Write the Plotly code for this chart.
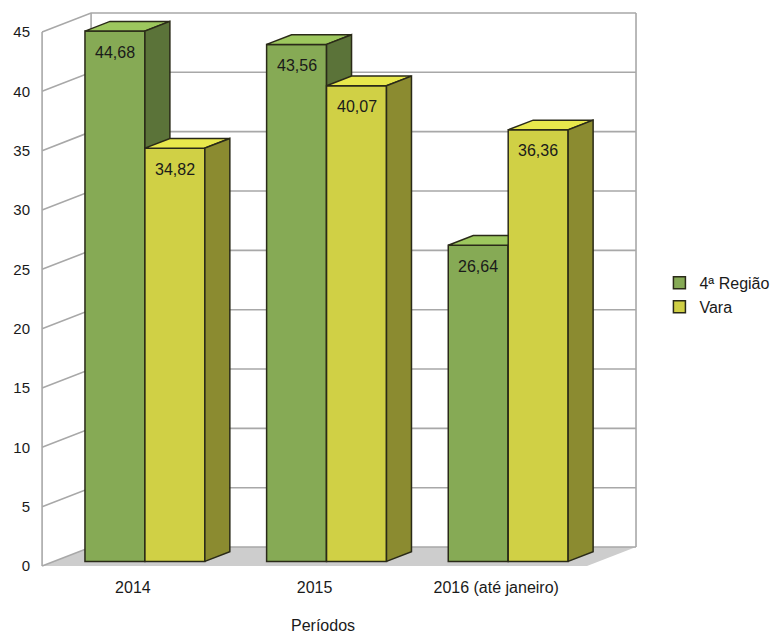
import plotly.graph_objects as go

# ---------------- data ----------------
categories = ["2014", "2015", "2016 (até janeiro)"]
series_names = ["4ª Região", "Vara"]
regiao = [44.68, 43.56, 26.64]
vara = [34.82, 40.07, 36.36]
y_ticks = [0, 5, 10, 15, 20, 25, 30, 35, 40, 45]
x_title = "Períodos"

# ---------------- styles / geometry ----------------
FONT = "Liberation Sans, Arial, sans-serif"
TXT = "#1a1a1a"
FRONT = ["#86aa55", "#d0d045"]
TOP = ["#9dc75e", "#e8e84c"]
SIDE = ["#5b7339", "#8b8b30"]
EDGE = "#2a2a18"
GRID = "#a8a8a8"
FLOOR = "#cdcdcd"

CAT_PX = 181.67          # pixels per category on the front plane
VAL_PX = 534 / 45        # pixels per value unit
WALL_DX = 49 / CAT_PX    # depth of the chart box (x, category units)
WALL_DY = 19 / VAL_PX    # depth of the chart box (y, value units)
BAR_D0 = 0.245           # depth fraction where bars start
BAR_DEPTH = 0.51         # depth fraction of bars
BAR_W = 0.33             # bar width (category units)

X0, X1 = -0.55, 2.7917
Y0, Y1 = -0.5, 46.85

xs = list(range(len(categories)))
series = [regiao, vara]

fig = go.Figure()

# ---- background box (floor, walls, grid) on x/y ----
floor_x = [-0.5, 2.5, 2.5 + WALL_DX, -0.5 + WALL_DX, -0.5]
floor_y = [0, 0, WALL_DY, WALL_DY, 0]
fig.add_trace(go.Scatter(x=floor_x, y=floor_y, fill="toself", fillcolor=FLOOR,
                         mode="lines", line=dict(width=0), hoverinfo="skip",
                         showlegend=False))
gx, gy = [], []
for v in y_ticks:
    gx += [-0.5, -0.5 + WALL_DX, 2.5 + WALL_DX, None]
    gy += [v, v + WALL_DY, v + WALL_DY, None]
top_v = y_ticks[-1]
for xv, dy in [(-0.5, 0), (-0.5 + WALL_DX, WALL_DY), (2.5 + WALL_DX, WALL_DY)]:
    gx += [xv, xv, None]
    gy += [dy, top_v + dy, None]
fig.add_trace(go.Scatter(x=gx, y=gy, mode="lines", line=dict(color=GRID, width=1.6),
                         hoverinfo="skip", showlegend=False))

# ---- bars: one overlay subplot per series so later series paint over earlier ----
base = WALL_DY * BAR_D0
bdx = WALL_DX * BAR_DEPTH
bdy = WALL_DY * BAR_DEPTH
annotations = []
for s, vals in enumerate(series):
    xa = "x%d" % (s + 2)
    ya = "y%d" % (s + 2)
    offset = -BAR_W + s * BAR_W + WALL_DX * BAR_D0
    fig.add_trace(go.Bar(x=xs, y=vals, base=base, offset=offset, width=BAR_W,
                         name=series_names[s], xaxis=xa, yaxis=ya,
                         marker=dict(color=FRONT[s], line=dict(color=EDGE, width=1.5)),
                         hoverinfo="skip"))
    tx, ty, sx, sy = [], [], [], []
    for c, v in zip(xs, vals):
        xl = c + offset
        xr = xl + BAR_W
        yt = base + v
        tx += [xl, xr, xr + bdx, xl + bdx, xl, None]
        ty += [yt, yt, yt + bdy, yt + bdy, yt, None]
        sx += [xr, xr, xr + bdx, xr + bdx, xr, None]
        sy += [base, yt, yt + bdy, base + bdy, base, None]
        annotations.append(dict(x=(xl + xr) / 2, y=yt, xref="x", yref="y",
                                text=("%.2f" % v).replace(".", ","), showarrow=False,
                                yshift=-21, font=dict(family=FONT, size=16, color=TXT)))
    fig.add_trace(go.Scatter(x=tx, y=ty, fill="toself", fillcolor=TOP[s], mode="lines",
                             line=dict(color=EDGE, width=1.5), xaxis=xa, yaxis=ya,
                             hoverinfo="skip", showlegend=False))
    fig.add_trace(go.Scatter(x=sx, y=sy, fill="toself", fillcolor=SIDE[s], mode="lines",
                             line=dict(color=EDGE, width=1.5), xaxis=xa, yaxis=ya,
                             hoverinfo="skip", showlegend=False))

W, H = 773, 635
ML, MR, MT, MB = 33, 133, 10, 63

# axis title placed centred under the front floor edge
annotations.append(dict(x=(323 - ML) / (W - ML - MR), y=0, xref="paper", yref="paper",
                        yshift=-53, yanchor="middle", text=x_title, showarrow=False,
                        font=dict(family=FONT, size=16, color=TXT)))

hidden = dict(range=[X0, X1], visible=False, fixedrange=True)
hiddeny = dict(range=[Y0, Y1], visible=False, fixedrange=True)
fig.update_layout(
    width=W, height=H,
    margin=dict(l=ML, r=MR, t=MT, b=MB, autoexpand=False),
    paper_bgcolor="white", plot_bgcolor="white",
    font=dict(family=FONT, size=15, color=TXT),
    barmode="overlay",
    xaxis=dict(range=[X0, X1], tickvals=xs, ticktext=categories, showgrid=False,
               zeroline=False, showline=False, ticks="", ticklabelstandoff=4,
               tickfont=dict(size=16)),
    yaxis=dict(range=[Y0, Y1], tickvals=y_ticks, showgrid=False, zeroline=False,
               showline=False, ticks="", ticklabelstandoff=2, tickfont=dict(size=15)),
    xaxis2=dict(overlaying="x", **hidden),
    yaxis2=dict(overlaying="y", **hiddeny),
    xaxis3=dict(overlaying="x", **hidden),
    yaxis3=dict(overlaying="y", **hiddeny),
    legend=dict(x=1.032, y=0.493, xanchor="left", yanchor="middle",
                font=dict(size=16), itemwidth=30, bgcolor="rgba(0,0,0,0)"),
    annotations=annotations,
)

fig.write_html("out.html")
